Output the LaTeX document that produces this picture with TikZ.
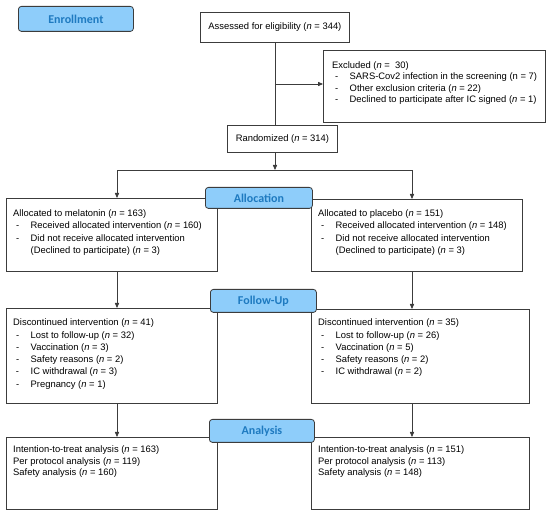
\documentclass[tikz,border=0pt]{standalone}
\usepackage{fontspec}
\setmainfont{Liberation Sans}
\newfontfamily\hfont{Carlito}
\usetikzlibrary{arrows.meta}
\definecolor{lnc}{RGB}{60,60,60}
\definecolor{hfill}{RGB}{142,205,250}
\definecolor{htext}{RGB}{30,122,192}
\newcommand\dl[1]{\makebox[17.5pt][l]{\hspace{2.8pt}-}#1}
\newcommand\ind{\hspace*{17.5pt}}
\newcommand\nn{\textit{n}}
\begin{document}
\begin{tikzpicture}[x=1pt,y=-1pt,
 box/.style={draw=lnc, line width=0.8pt, fill=white, anchor=north west, inner sep=0pt},
 txt/.style={font=\fontsize{9.4}{12.3}\selectfont, align=left, anchor=north west, inner sep=0pt},
 head/.style={draw=lnc, line width=0.8pt, fill=hfill, rounded corners=3pt, anchor=north west, inner sep=0pt, font=\hfont\bfseries\fontsize{12}{14}\selectfont, text=htext},
 conn/.style={draw=lnc, line width=0.8pt},
 arr/.style={conn, -{Triangle[length=5pt,width=4.2pt]}}
]
\useasboundingbox (0,0) rectangle (550,518);
% boxes
\node[box, minimum width=149pt, minimum height=30pt, font=\fontsize{9.4}{12.3}\selectfont] (ass) at (200,12) {Assessed for eligibility (\nn{} = 344)};
\node[box, minimum width=222pt, minimum height=72pt] (exc) at (323,50) {};
\node[txt, font=\fontsize{9.4}{11.5}\selectfont] (exct) at (332,61.2) {Excluded (\nn{} =\ \ 30)\\
\dl{SARS-Cov2 infection in the screening (n = 7)}\\
\dl{Other exclusion criteria (\nn{} = 22)}\\
\dl{Declined to participate after IC signed (\nn{} = 1)}};
\node[box, minimum width=110pt, minimum height=27pt, font=\fontsize{9.4}{12.3}\selectfont] (rand) at (227,125) {Randomized (\nn{} = 314)};

\node[box, minimum width=211pt, minimum height=73pt] (la) at (6,198) {};
\node[txt, font=\fontsize{9.4}{12.4}\selectfont] (lat) at (13,209.5) {Allocated to melatonin (\nn{} = 163)\\
\dl{Received allocated intervention (\nn{} = 160)}\\
\dl{Did not receive allocated intervention}\\
\ind(Declined to participate) (\nn{} = 3)};
\node[box, minimum width=211pt, minimum height=72pt] (ra) at (311,199) {};
\node[txt, font=\fontsize{9.4}{12.4}\selectfont] (rat) at (318,209.5) {Allocated to placebo (\nn{} = 151)\\
\dl{Received allocated intervention (\nn{} = 148)}\\
\dl{Did not receive allocated intervention}\\
\ind(Declined to participate) (\nn{} = 3)};

\node[box, minimum width=211pt, minimum height=95pt] (ld) at (6,308) {};
\node[txt, font=\fontsize{9.4}{12.25}\selectfont] (ldt) at (13,318.9) {Discontinued intervention (\nn{} = 41)\\
\dl{Lost to follow-up (\nn{} = 32)}\\
\dl{Vaccination (\nn{} = 3)}\\
\dl{Safety reasons (\nn{} = 2)}\\
\dl{IC withdrawal (\nn{} = 3)}\\
\dl{Pregnancy (\nn{} = 1)}};
\node[box, minimum width=218pt, minimum height=94pt] (rd) at (311,309) {};
\node[txt, font=\fontsize{9.4}{12.25}\selectfont] (rdt) at (318,318.9) {Discontinued intervention (\nn{} = 35)\\
\dl{Lost to follow-up (\nn{} = 26)}\\
\dl{Vaccination (\nn{} = 5)}\\
\dl{Safety reasons (\nn{} = 2)}\\
\dl{IC withdrawal (\nn{} = 2)}};

\node[box, minimum width=211pt, minimum height=72pt] (lan) at (6,437) {};
\node[txt, font=\fontsize{9.4}{11.7}\selectfont] (lant) at (13,445.5) {Intention-to-treat analysis (\nn{} = 163)\\
Per protocol analysis (\nn{} = 119)\\
Safety analysis (\nn{} = 160)};
\node[box, minimum width=218pt, minimum height=72pt] (ran) at (311,437) {};
\node[txt, font=\fontsize{9.4}{11.7}\selectfont] (rant) at (318,445.5) {Intention-to-treat analysis (\nn{} = 151)\\
Per protocol analysis (\nn{} = 113)\\
Safety analysis (\nn{} = 148)};

% connectors
\coordinate (ey) at (0,84);
\coordinate (split) at (275,170);
\coordinate (lx) at (117,0);
\coordinate (rx) at (412,0);
\draw[conn] (ass.south) -- (ass.south |- rand.north);
\draw[arr] (ass.south |- ey) -- (exc.west |- ey);
\draw[arr] (split |- rand.south) -- (split);
\draw[arr] (split) -| (lx |- la.north);
\draw[arr] (split) -| (rx |- ra.north);
\draw[arr] (lx |- la.south) -- (lx |- ld.north);
\draw[arr] (rx |- ra.south) -- (rx |- rd.north);
\draw[arr] (lx |- ld.south) -- (lx |- lan.north);
\draw[arr] (rx |- rd.south) -- (rx |- ran.north);

% headings
\node[head, minimum width=115pt, minimum height=25pt] (enr) at (18,6) {Enrollment};
\node[head, minimum width=107pt, minimum height=21pt] (alloc) at (205,187) {Allocation};
\node[head, minimum width=106pt, minimum height=23pt] (fol) at (210,289) {Follow-Up};
\node[head, minimum width=105pt, minimum height=23pt] (ana) at (209,419) {Analysis};
\end{tikzpicture}
\end{document}
